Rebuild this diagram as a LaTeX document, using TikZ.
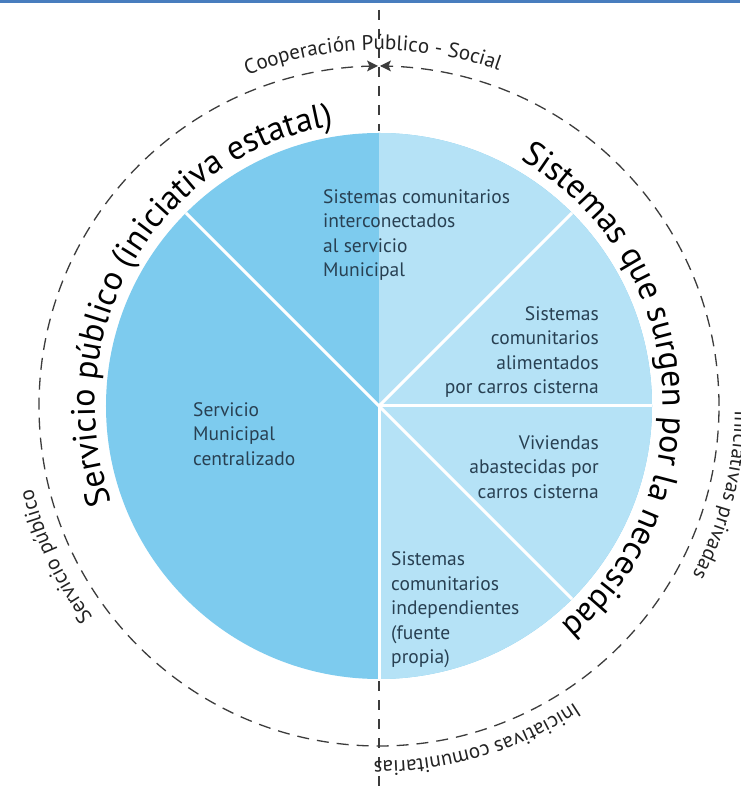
\documentclass[tikz,border=0pt]{standalone}
\usepackage{fontspec}
\setmainfont{PT Sans}
\usetikzlibrary{decorations.text}
\definecolor{piedark}{RGB}{125,203,238}
\definecolor{pielight}{RGB}{181,226,246}
\definecolor{labelcol}{RGB}{40,64,82}
\definecolor{dashcol}{RGB}{60,60,60}
\definecolor{topbar}{RGB}{72,125,190}
\definecolor{outertext}{RGB}{35,35,35}
\tikzset{
  sepline/.style={white, line width=3pt},
  dashring/.style={dashcol, line width=1.3pt, dash pattern=on 12pt off 8pt},
  dashaxis/.style={dashcol, line width=1.3pt, dash pattern=on 10pt off 9pt},
  seglabel/.style={text=labelcol, font=\fontsize{19.5}{24.5}\selectfont, inner sep=0pt},
}
\begin{document}
\begin{tikzpicture}[x=1pt,y=1pt]
\useasboundingbox (-379,-385) rectangle (361,406);
\fill[white] (-379,-385) rectangle (361,406);
\fill[topbar] (-379,403) rectangle (361,406);
% pie
\fill[piedark] (0,0) circle[radius=273pt];
\fill[pielight] (0,0) -- (0,-273) arc[start angle=-90, end angle=90, radius=273pt] -- cycle;
\foreach \a in {135,45,0,-45,-90} \draw[sepline] (0,0) -- (\a:273pt);
% rings and axis
\draw[dashring] (0,0) circle[radius=340pt];
\draw[dashaxis] (0,396) -- (0,275);
\draw[dashaxis] (0,-275) -- (0,-385);
\fill[dashcol] (-12,345.5) -- (-1,340) -- (-12,334.5) -- (-9.5,340) -- cycle;
\fill[dashcol] (12,345.5) -- (1,340) -- (12,334.5) -- (9.5,340) -- cycle;
% segment labels
\node[seglabel, anchor=west, align=left] (municipal) at (-186,-28) {Servicio\\Municipal\\centralizado};
\node[seglabel, anchor=west, align=left] (interco) at (-56,171) {Sistemas comunitarios\\interconectados\\al servicio\\Municipal};
\node[seglabel, anchor=east, align=right] (alim) at (220,54) {Sistemas\\comunitarios\\alimentados\\por carros cisterna};
\node[seglabel, anchor=east, align=right] (viv) at (220,-61) {Viviendas\\abastecidas por\\carros cisterna};
\node[seglabel, anchor=west, align=left] (indep) at (12,-204) {Sistemas\\comunitarios\\independientes\\(fuente\\propia)};
% big arc texts
\path[decorate, decoration={text along path, text align=center, text color=black,
  text={|\fontsize{34}{34}\selectfont|Servicio público (iniciativa estatal)}}]
  (224.5:284pt) arc[start angle=224.5, end angle=74.5, radius=284pt];
\path[decorate, decoration={text along path, text align=center, text color=black,
  text={|\fontsize{34}{34}\selectfont|Sistemas que surgen por la necesidad}}]
  (80:284pt) arc[start angle=80, end angle=-70, radius=284pt];
% outer labels
\path[decorate, decoration={text along path, text align=center, text color=outertext,
  text={|\fontsize{21}{21}\selectfont|Cooperación Público - Social}}]
  (171:356pt) arc[start angle=171, end angle=11, radius=356pt];
\path[decorate, decoration={text along path, text align=center, text color=outertext,
  text={|\fontsize{21}{21}\selectfont|Servicio público}}]
  (265:356pt) arc[start angle=265, end angle=145, radius=356pt];
\path[decorate, decoration={text along path, text align=center, text color=outertext,
  text={|\fontsize{21}{21}\selectfont|Iniciativas privadas}}]
  (45.5:356pt) arc[start angle=45.5, end angle=-74.5, radius=356pt];
\path[decorate, decoration={text along path, text align=center, text color=outertext,
  text={|\fontsize{21}{21}\selectfont|Iniciativas comunitarias}}]
  (-13.7:355pt) arc[start angle=-13.7, end angle=-133.7, radius=355pt];
\end{tikzpicture}
\end{document}
